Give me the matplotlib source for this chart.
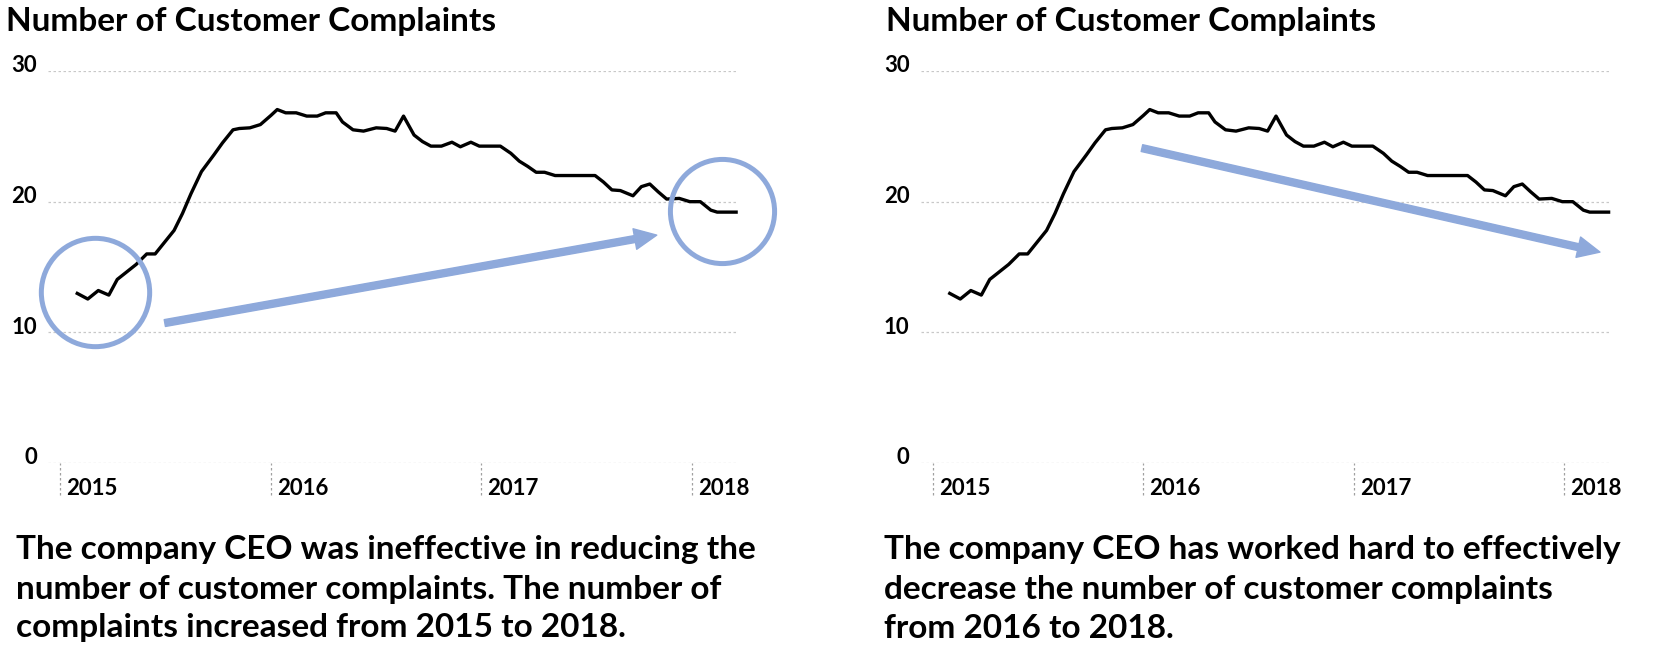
import matplotlib
matplotlib.use("Agg")
import matplotlib.pyplot as plt
from matplotlib.transforms import ScaledTranslation

plt.rcParams['font.family'] = ['Lato', 'DejaVu Sans']

# complaint counts (decimal year, count)
years = [2015.08, 2015.13, 2015.18, 2015.23, 2015.27, 2015.31, 2015.36, 2015.41,
         2015.45, 2015.49, 2015.54, 2015.58, 2015.62, 2015.67, 2015.73, 2015.77,
         2015.82, 2015.85, 2015.90, 2015.95, 2016.00, 2016.03, 2016.07, 2016.12,
         2016.17, 2016.22, 2016.26, 2016.31, 2016.34, 2016.39, 2016.44, 2016.50,
         2016.55, 2016.59, 2016.63, 2016.68, 2016.72, 2016.76, 2016.81, 2016.86,
         2016.90, 2016.95, 2016.99, 2017.09, 2017.14, 2017.18, 2017.22, 2017.26,
         2017.30, 2017.35, 2017.54, 2017.58, 2017.62, 2017.66, 2017.72, 2017.76,
         2017.80, 2017.84, 2017.88, 2017.94, 2017.99, 2018.04, 2018.09, 2018.12,
         2018.21]
complaints = [12.98, 12.55, 13.2, 12.85, 14.05, 14.56, 15.2, 16.0,
              16.0, 16.8, 17.8, 19.1, 20.6, 22.3, 23.6, 24.5,
              25.5, 25.6, 25.65, 25.9, 26.6, 27.05, 26.8, 26.8,
              26.55, 26.55, 26.8, 26.8, 26.1, 25.5, 25.4, 25.65,
              25.6, 25.4, 26.55, 25.1, 24.6, 24.25, 24.25, 24.55,
              24.2, 24.55, 24.25, 24.25, 23.7, 23.1, 22.7, 22.25,
              22.25, 22.0, 22.0, 21.5, 20.9, 20.85, 20.45, 21.15,
              21.35, 20.75, 20.2, 20.25, 20.0, 20.0, 19.35, 19.2,
              19.2]

year_ticks = [2015, 2016, 2017, 2018]
y_ticks = [0, 10, 20, 30]

title = 'Number of Customer Complaints'
captions = [
    ['The company CEO was ineffective in reducing the',
     'number of customer complaints. The number of',
     'complaints increased from 2015 to 2018.'],
    ['The company CEO has worked hard to effectively',
     'decrease the number of customer complaints',
     'from 2016 to 2018.'],
]

blue = '#8EA9DB'
W, H = 1661, 656
fig = plt.figure(figsize=(W / 100, H / 100), dpi=100)


def make_axes(left_px):
    ax = fig.add_axes([left_px / W, (H - 463) / H, 690 / W, 392 / H])
    ax.plot(years, complaints, color='black', lw=2.4, clip_on=False, zorder=3)
    ax.set_xlim(2014.941, 2018.219)
    ax.set_ylim(0, 30)
    for s in ax.spines.values():
        s.set_visible(False)
    ax.set_yticks(y_ticks)
    ax.set_yticklabels([str(v) for v in y_ticks], fontsize=16, fontweight='bold')
    ax.grid(axis='y', color='#c8c8c8', lw=0.9, ls=(0, (2, 2)))
    ax.set_xticks(year_ticks)
    ax.set_xticklabels([str(y) for y in year_ticks], fontsize=16, fontweight='bold',
                       ha='left')
    ax.tick_params(length=0, pad=11)
    ax.tick_params(axis='y', pad=8)
    for lbl in ax.get_xticklabels():
        lbl.set_transform(lbl.get_transform() + ScaledTranslation(6 / 100, 0, fig.dpi_scale_trans))
    for lbl in ax.get_yticklabels():
        lbl.set_transform(lbl.get_transform() + ScaledTranslation(0, 7 / 100, fig.dpi_scale_trans))
    # dotted year tick marks below the axis
    ax.vlines(year_ticks, -0.082, 0, transform=ax.get_xaxis_transform(),
              colors='#a0a0a0', lw=0.9, linestyles=(0, (2, 2)), clip_on=False)
    return ax


ax1 = make_axes(48)
ax2 = make_axes(920.5)

# left: circles + rising arrow
for cx, cy, ms in [(2015.164, 13.08, 78), (2018.142, 19.28, 75)]:
    ax1.plot([cx], [cy], marker='o', ms=ms, mfc='none', mec=blue, mew=3.6,
             clip_on=False, zorder=4)
ax1.annotate('', xy=(2017.833, 17.44), xytext=(2015.496, 10.71),
             arrowprops=dict(width=5, headwidth=15, headlength=16, color=blue, shrink=0),
             annotation_clip=False)

# right: falling arrow
ax2.annotate('', xy=(2018.169, 16.14), xytext=(2015.993, 24.1),
             arrowprops=dict(width=5, headwidth=15, headlength=16, color=blue, shrink=0),
             annotation_clip=False)

for x0, x1, lines in [(6, 16, captions[0]), (886, 884, captions[1])]:
    fig.text(x0 / W, 1 - 21 / H, title, fontsize=24, fontweight='bold', va='center')
    for i, line in enumerate(lines):
        fig.text(x1 / W, 1 - (550 + 39 * i) / H, line, fontsize=24,
                 fontweight='bold', va='center')

fig.savefig('out.png', dpi=100)
